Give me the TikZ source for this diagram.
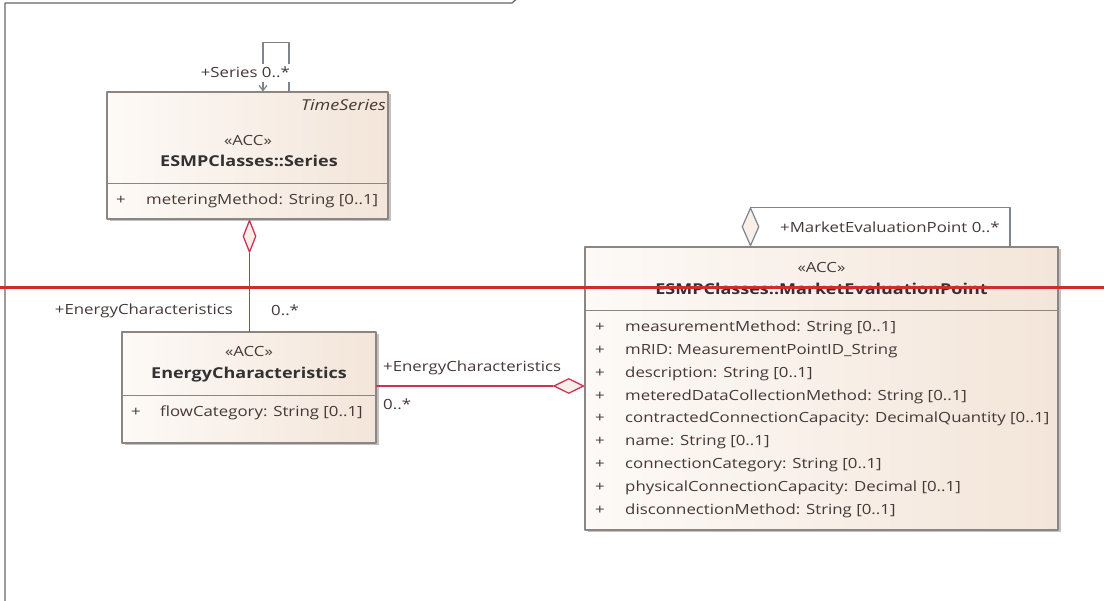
\documentclass[tikz,border=0pt]{standalone}
\usepackage{fontspec}
\setmainfont{Open Sans}[FakeStretch=1.2]
\usetikzlibrary{shapes.geometric,shadows,arrows.meta}

\definecolor{umlfillA}{RGB}{253,250,247}
\definecolor{umlfillB}{RGB}{243,229,217}
\definecolor{umlline}{RGB}{140,134,130}
\definecolor{umltext}{RGB}{70,56,56}
\definecolor{umlname}{RGB}{50,50,50}
\definecolor{assocred}{RGB}{205,50,85}
\definecolor{selfgray}{RGB}{125,132,140}
\definecolor{markred}{RGB}{205,45,45}

\tikzset{
  classbox/.style={draw=umlline, line width=1.2pt, rectangle, inner sep=0pt,
    left color=umlfillA, right color=umlfillB,
    drop shadow={shadow xshift=2.5pt, shadow yshift=-2.5pt, fill=black!40, opacity=.6}},
  txt/.style={inner sep=0pt, text=umltext, text height=12.5pt, text depth=3pt,
    font=\fontsize{14}{16}\selectfont},
  stereo/.style={txt, anchor=center},
  cname/.style={txt, text=umlname, font=\fontsize{15}{17}\selectfont\bfseries},
  attr/.style={txt, anchor=west},
  role/.style={txt, anchor=west, fill=white, inner sep=1pt},
  sep/.style={draw=umlline, line width=1pt},
  assoc/.style={draw=assocred, line width=1.5pt},
  selfline/.style={draw=selfgray, line width=1.2pt},
  aggr/.style={diamond, draw=assocred, line width=1.3pt, fill=umlfillB!60, inner sep=0pt},
  selfaggr/.style={diamond, draw=selfgray, line width=1.2pt, fill=umlfillB!60, inner sep=0pt},
}

\begin{document}
\begin{tikzpicture}[line cap=round, line join=round, x=1pt, y=-1pt]
  \useasboundingbox (0,0) rectangle (1104,601);

  % package frame
  \draw[draw=black!60, line width=1.2pt] (5,601) -- (5,3) -- (512,3) -- (519,-3);

  % ESMPClasses::Series
  \node[classbox, minimum width=281pt, minimum height=127pt] (series) at (247.5,155.5) {};
  \node[txt, anchor=east, font=\fontsize{15}{17}\selectfont\itshape] (s-tag) at (386,106) {TimeSeries};
  \node[stereo] (s-st) at (248,141) {«ACC»};
  \node[cname] (s-name) at (249,162) {ESMPClasses::Series};
  \draw[sep] (107,184) -- (388,184);
  \node[attr] (s-p1) at (116,200) {+};
  \node[attr] (s-a1) at (146,200) {meteringMethod: String [0..1]};

  % EnergyCharacteristics
  \node[classbox, minimum width=254pt, minimum height=111pt] (ec) at (249,387.5) {};
  \node[stereo] (e-st) at (249,352) {«ACC»};
  \node[cname] (e-name) at (249,374) {EnergyCharacteristics};
  \draw[sep] (122,396) -- (376,396);
  \node[attr] (e-p1) at (131,412) {+};
  \node[attr] (e-a1) at (160,412) {flowCategory: String [0..1]};

  % ESMPClasses::MarketEvaluationPoint
  \node[classbox, minimum width=473pt, minimum height=283pt] (mep) at (821.5,388.5) {};
  \node[stereo] (m-st) at (821.5,268) {«ACC»};
  \node[cname] (m-name) at (821.5,290) {ESMPClasses::MarketEvaluationPoint};
  \draw[sep] (585,311) -- (1058,311);
  \node[attr] (m-p1) at (595,327) {+};
  \node[attr] (m-p2) at (595,350) {+};
  \node[attr] (m-p3) at (595,373) {+};
  \node[attr] (m-p4) at (595,396) {+};
  \node[attr] (m-p5) at (595,418) {+};
  \node[attr] (m-p6) at (595,441) {+};
  \node[attr] (m-p7) at (595,464) {+};
  \node[attr] (m-p8) at (595,487) {+};
  \node[attr] (m-p9) at (595,510) {+};
  \node[attr] (m-a1) at (625,327) {measurementMethod: String [0..1]};
  \node[attr] (m-a2) at (625,350) {mRID: MeasurementPointID\_String};
  \node[attr] (m-a3) at (625,373) {description: String [0..1]};
  \node[attr] (m-a4) at (625,396) {meteredDataCollectionMethod: String [0..1]};
  \node[attr] (m-a5) at (625,418) {contractedConnectionCapacity: DecimalQuantity [0..1]};
  \node[attr] (m-a6) at (625,441) {name: String [0..1]};
  \node[attr] (m-a7) at (625,464) {connectionCategory: String [0..1]};
  \node[attr] (m-a8) at (625,487) {physicalConnectionCapacity: Decimal [0..1]};
  \node[attr] (m-a9) at (625,510) {disconnectionMethod: String [0..1]};

  % Series -> Series
  \draw[selfline, -{Straight Barb[length=5pt, width=8pt]}]
    ([xshift=41.5pt]series.north) -- ++(0,-49) -| ([xshift=15.5pt]series.north);
  \node[role, anchor=east] (s-role) at (291,73) {+Series 0..*};

  % Series <>-- EnergyCharacteristics
  \node[aggr, anchor=north, minimum width=13pt, minimum height=32pt] (s-dia) at ([xshift=2pt]series.south) {};
  \draw[assoc] (s-dia.south) -- (s-dia.south |- ec.north);
  \node[txt, anchor=east] (e-role1) at (233,310) {+EnergyCharacteristics};
  \node[txt, anchor=west] (e-mult1) at (271,311) {0..*};

  % EnergyCharacteristics --<> MarketEvaluationPoint
  \node[aggr, anchor=east, minimum width=30pt, minimum height=15pt] (m-dia) at ([yshift=2.5pt]mep.west) {};
  \draw[assoc] (m-dia.west -| ec.east) -- (m-dia.west);
  \node[txt, anchor=west] (e-role2) at (383,367) {+EnergyCharacteristics};
  \node[txt, anchor=west] (e-mult2) at (383,405) {0..*};

  % MarketEvaluationPoint -> MarketEvaluationPoint
  \node[selfaggr, anchor=south, minimum width=17pt, minimum height=38pt] (m-self) at ([xshift=-71pt]mep.north) {};
  \draw[selfline] (m-self.north) -| ([xshift=188.5pt]mep.north);
  \node[txt, anchor=west] (m-role) at (780,228) {+MarketEvaluationPoint 0..*};

  % marker line
  \draw[draw=markred, line width=3pt, line cap=butt] (0,288) -- (1104,288);

\end{tikzpicture}
\end{document}
